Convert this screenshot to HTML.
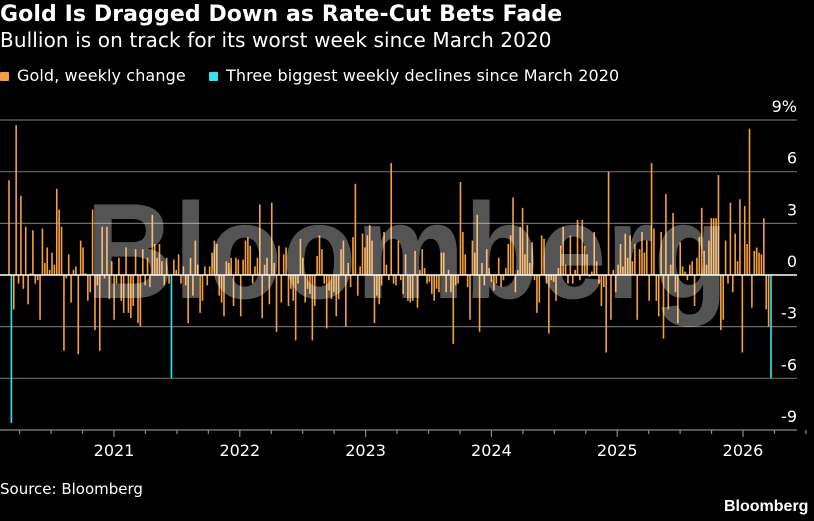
<!DOCTYPE html>
<html><head><meta charset="utf-8">
<style>
html,body{margin:0;padding:0;background:#000;}
body{width:814px;height:521px;overflow:hidden;font-family:"DejaVu Sans","Liberation Sans",sans-serif;color:#fff;position:relative;}
.t{position:absolute;left:0;white-space:nowrap;}
</style></head><body>
<div class="t" style="top:2px;font-size:22px;font-weight:bold;letter-spacing:0.1px">Gold Is Dragged Down as Rate-Cut Bets Fade</div>
<div class="t" style="top:28px;font-size:20px;letter-spacing:0.1px">Bullion is on track for its worst week since March 2020</div>
<div class="t" style="top:66px;font-size:16px;letter-spacing:0.1px">
<span><span style="display:inline-block;width:9px;height:9px;background:#f5a03a;margin-right:8px;vertical-align:0px;border-radius:1px"></span>Gold, weekly change</span>
<span style="margin-left:18px"><span style="display:inline-block;width:9px;height:9px;background:#2ee6f0;margin-right:8px;vertical-align:0px;border-radius:1px"></span>Three biggest weekly declines since March 2020</span>
</div>
<svg id="chart" width="814" height="521" style="position:absolute;left:0;top:0" xmlns="http://www.w3.org/2000/svg"></svg>
<div class="t" style="top:480px;font-size:15px;">Source: Bloomberg</div>
<div class="t" style="top:498px;left:724px;font-size:16px;font-weight:bold;font-family:'Liberation Sans',sans-serif">Bloomberg</div>
<script>
const values=[5.5,-8.6,-2,8.7,-0.5,4.6,-0.8,2.8,-1.7,0.1,2.6,-0.5,-0.3,-2.6,2.7,0.7,1.6,0.3,1.3,0.6,5.0,3.8,2.8,-4.4,-0.2,1.2,-1.6,0.3,0.5,-4.6,2.0,1.6,0.1,-1.5,-1.0,3.8,-3.2,-0.6,-4.4,2.8,-0.2,2.8,-1.4,0.8,-2.6,-0.5,1.0,-1.5,-2.2,1.6,-2.2,-2.5,-1.8,1.5,
-2.8,-3.0,1.5,-0.6,1.0,-0.7,3.5,1.8,1.0,1.8,0.8,-0.6,1.0,-0.5,-6.0,0.9,0.3,1.2,-0.5,0.5,-0.6,-2.8,1.0,-1.2,2.0,0.6,-2.2,-1.5,0.5,-0.6,0.5,1.3,2.0,1.8,-1.2,-1.6,-2.4,0.8,0.7,1.0,-1.8,1.0,0.9,-2.4,0.9,2.0,2.2,1.7,-0.5,0.5,1.0,4.1,-2.5,0.6,1.0,-1.7,
4.2,0.7,-3.3,1.7,-1.6,1.2,1.6,-1.8,-0.8,-1.5,-3.8,-0.5,2.1,1.0,-1.6,-0.8,-1.1,-3.8,-1.8,1.1,2.3,1.5,-0.5,-3.1,-0.9,-1.4,-1.0,-2.4,-1.4,1.5,2.0,-3.0,0.7,-0.7,2.2,5.3,-1.2,0.5,2.4,1.6,2.3,2.9,2.0,-2.8,-1.2,-1.7,-0.6,2.5,0.6,-0.3,6.5,
-0.5,-0.6,2.0,-0.3,-1.1,1.2,-1.5,-1.6,-1.5,1.4,-1.9,0.3,1.5,0.4,-0.5,-0.4,-1.1,-1.5,-0.8,-1.0,1.3,1.3,-1.0,0.3,-1.0,-4.0,-0.6,-0.5,5.4,2.5,1.2,-0.7,-2.6,2.0,1.3,3.5,-3.3,0.7,-0.6,1.5,0.4,-0.4,-0.9,-0.5,1.0,-0.7,-0.3,0.4,1.8,2.3,4.5,-1.0,0.3,2.8,3.9,
1.2,2.9,0.7,1.9,-0.3,-2.2,-1.6,2.3,2.1,-0.5,-3.4,-0.3,-0.4,-1.5,0.4,1.7,2.8,0.6,-0.5,2.3,-0.5,0.3,3.2,-0.3,3.2,1.7,1.2,-0.1,0.2,2.5,0.8,-0.5,-1.8,-0.7,-4.5,6.0,-2.6,0.3,-1.0,0.6,1.8,0.5,2.4,1.0,2.3,0.8,1.8,-2.6,1.5,2.5,1.3,2.0,-1.5,6.5,2.7,
-1.5,-2.4,2.5,-3.7,4.7,-2.0,0.6,3.6,-1.0,-2.8,1.9,0.5,0.2,-0.3,0.6,0.8,-1.8,1.0,2.2,3.9,1.4,0.6,2.0,3.3,3.3,3.3,5.8,-3.2,-2.6,2.0,-0.5,4.2,-1.0,2.4,0.8,4.4,-4.5,4.0,1.8,8.5,-1.9,1.4,1.6,1.3,1.2,3.3,-2.0,-3.0,-6.0];
const yTicks=[9,6,3,0,-3,-6,-9];
const yTickLabels=["9%","6","3","0","-3","-6","-9"];
const years=[2021,2022,2023,2024,2025,2026];
const svg=document.getElementById('chart');
const NS='http://www.w3.org/2000/svg';
const FONT='DejaVu Sans, Liberation Sans, sans-serif';
function y(v){return 275-v*17.22;}
function xi(i){return 9+i*(771-9)/(values.length-1);}
function xy(yr){return 114+(yr-2021)*125.8;}
function mk(tag,a){const e=document.createElementNS(NS,tag);for(const k in a)e.setAttribute(k,a[k]);svg.appendChild(e);return e;}
yTicks.forEach((t,k)=>{
 if(t!==0&&t!==-9){const g=mk('line',{x1:0,x2:797,y1:y(t),y2:y(t),stroke:'#6a6a6a','stroke-width':1.2});
 
 }
 const tx=mk('text',{x:797,y:y(t)-8,'text-anchor':'end',fill:'#fff','font-size':16,'font-family':FONT});
 tx.textContent=yTickLabels[k];
 
 
});
const sorted=values.map((v,i)=>[v,i]).sort((a,b)=>a[0]-b[0]).slice(0,3).map(p=>p[1]);
values.forEach((v,i)=>{
 const hl=sorted.includes(i);
 const r=mk('rect',{x:xi(i)-0.8,y:Math.min(y(v),y(0)),width:1.6,height:Math.abs(y(v)-y(0)),fill:hl?'#2ee6f0':'#f5a03a'});
 
 
});
const z=mk('line',{x1:0,x2:797,y1:y(0),y2:y(0),stroke:'#fff','stroke-width':1.5});


const wm=mk('text',{x:86,y:298,fill:'rgba(255,255,255,0.33)','font-size':136,'font-weight':'bold','font-family':'Liberation Sans, sans-serif',textLength:642,lengthAdjust:'spacingAndGlyphs'});
wm.textContent='Bloomberg';


const ax=mk('line',{x1:0,x2:797,y1:430,y2:430,stroke:'#8a8a8a','stroke-width':1.2});


for(let q=2020.25;q<2026.6;q+=0.25){
 const major=Math.abs(q-Math.round(q))<0.01;
 const tk=mk('line',{x1:xy(q),x2:xy(q),y1:430,y2:major?437:434,stroke:'#8a8a8a','stroke-width':1.2});
 
 
}
years.forEach(yr=>{
 const tx=mk('text',{x:xy(yr),y:456,'text-anchor':'middle',fill:'#fff','font-size':16,'font-family':FONT});
 tx.textContent=yr;
 
 
});
</script>
</body></html>
